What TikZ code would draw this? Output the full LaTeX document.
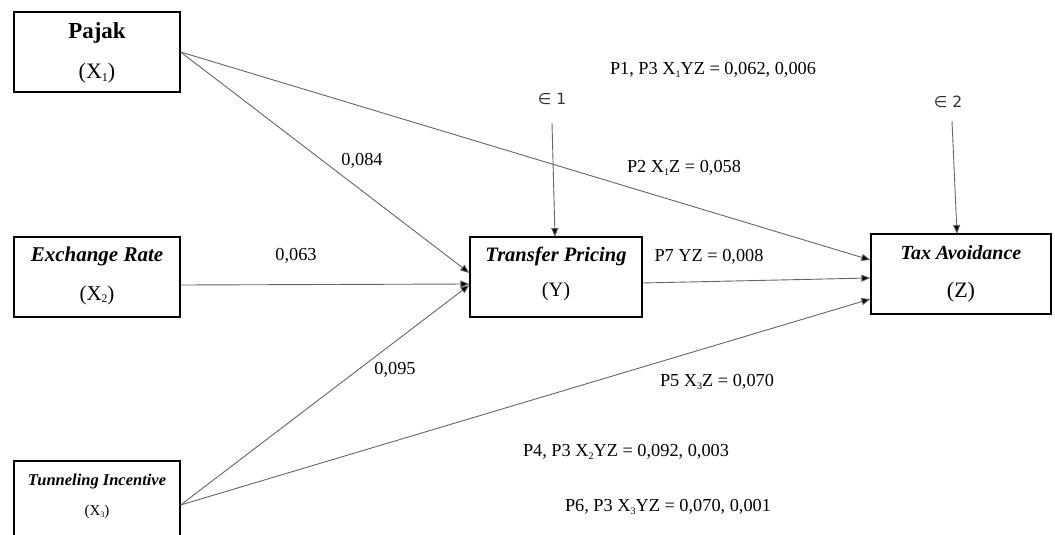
\documentclass[tikz,border=0pt]{standalone}
\usepackage{fontspec}
\setmainfont{Liberation Serif}
\newfontfamily\epsfont{DejaVu Sans}
\usetikzlibrary{arrows.meta,calc}

\tikzset{
  varbox/.style={draw=black, line width=1.2pt, fill=white, inner sep=0pt},
  path/.style={draw=black!60, line width=0.9pt},
  arr/.style={path, -{Triangle[length=9pt,width=7pt,fill=black]}},
  coef/.style={font=\fontsize{18.3}{21}\selectfont, inner sep=0pt, anchor=center},
  eps/.style={font=\epsfont\fontsize{15.5}{18}\selectfont, text=black!80, inner sep=0pt}
}
% small lowered index, as in X1
\newcommand{\sub}[1]{\raisebox{-0.3ex}{\scalebox{0.55}{#1}}}

\begin{document}
\begin{tikzpicture}[x=1pt, y=-1pt]
  \useasboundingbox (0,0) rectangle (1055,535);
  \clip (0,0) rectangle (1055,535);

  % variable boxes
  \node[varbox, minimum width=166pt, minimum height=80pt] (x1) at (97,52) {};
  \node[varbox, minimum width=166pt, minimum height=80pt] (x2) at (97,277) {};
  \node[varbox, minimum width=166pt, minimum height=88pt] (x3) at (97,505) {};
  \node[varbox, minimum width=172pt, minimum height=80pt] (y) at (556,277) {};
  \node[varbox, minimum width=180pt, minimum height=80pt] (z) at (961,274) {};

  % box titles
  \node[font=\fontsize{23}{26}\selectfont\bfseries] (x1t) at (97,33) {Pajak};
  \node[font=\fontsize{22}{26}\selectfont] (x1s) at (97,73) {(X\sub{1})};
  \node[font=\fontsize{21}{24}\selectfont\bfseries\itshape] (x2t) at (97,256) {Exchange Rate};
  \node[font=\fontsize{21}{24}\selectfont] (x2s) at (97,295) {(X\sub{2})};
  \node[font=\fontsize{16.5}{20}\selectfont\bfseries\itshape] (x3t) at (97,482) {Tunneling Incentive};
  \node[font=\fontsize{15}{18}\selectfont] (x3s) at (97,512) {(X\sub{3})};
  \node[font=\fontsize{20.5}{24}\selectfont\bfseries\itshape] (yt) at (556,256) {Transfer Pricing};
  \node[font=\fontsize{20.5}{24}\selectfont] (ys) at (556,292) {(Y)};
  \node[font=\fontsize{20}{24}\selectfont\bfseries\itshape] (zt) at (961,253) {Tax Avoidance};
  \node[font=\fontsize{22}{26}\selectfont] (zs) at (961,292) {(Z)};

  % error terms
  \node[eps] (e1) at (552,99) {∈ 1};
  \node[eps] (e2) at (948,102) {∈ 2};
  \coordinate (e1s) at (552,123);
  \coordinate (e2s) at (952,121);

  % paths
  \draw[arr] (x1.east) -- ([yshift=14pt]z.west);
  \draw[arr] (x1.east) -- ([yshift=4pt]y.west);
  \draw[arr] ([yshift=-8pt]x2.east) -- ([yshift=-7pt]y.west);
  \draw[arr] (x3.east) -- ([yshift=-8pt]y.west);
  \draw[arr] (x3.east) -- ([yshift=-25pt]z.west);
  \draw[arr] ([yshift=-6pt]y.east) -- ([yshift=-4pt]z.west);
  \draw[arr] (e1s) -- (555,237);
  \draw[arr] (e2s) -- (957,234);

  % coefficients
  \node[coef] (c1) at (713,70) {P1, P3 X\sub{1}YZ = 0,062, 0,006};
  \node[coef] (c2) at (684,168) {P2 X\sub{1}Z = 0,058};
  \node[coef] (c3) at (362,161) {0,084};
  \node[coef] (c4) at (296,256) {0,063};
  \node[coef] (c5) at (709,257) {P7 YZ = 0,008};
  \node[coef] (c6) at (395,370) {0,095};
  \node[coef] (c7) at (717,382) {P5 X\sub{3}Z = 0,070};
  \node[coef] (c8) at (626,452) {P4, P3 X\sub{2}YZ = 0,092, 0,003};
  \node[coef] (c9) at (668,507) {P6, P3 X\sub{3}YZ = 0,070, 0,001};
\end{tikzpicture}
\end{document}
